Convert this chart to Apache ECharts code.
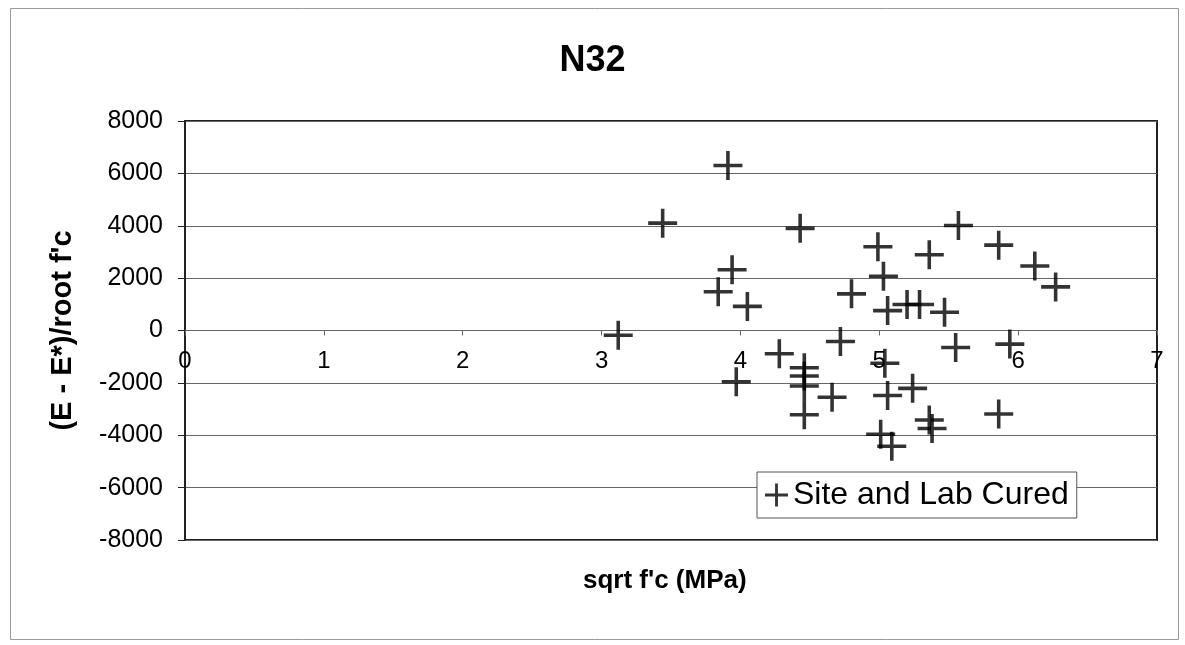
<!DOCTYPE html>
<html>
<head>
<meta charset="utf-8">
<title>N32</title>
<script src="https://cdn.jsdelivr.net/npm/echarts@6/dist/echarts.min.js"></script>
<style>
  html, body { margin: 0; padding: 0; background: #fff; }
  #chart { width: 1185px; height: 645px; }
</style>
</head>
<body>
<div id="chart"></div>
<script>
// sqrt f'c (MPa) for each specimen
const sqrtFc = [
  3.91, 3.44, 4.43, 4.99, 5.03, 3.94, 3.84, 4.05, 4.80, 5.06,
  3.12, 4.72, 4.28, 4.46, 4.46, 4.46, 4.46, 4.66, 3.97, 5.04,
  5.06, 5.01, 5.09, 5.57, 5.86, 5.36, 6.12, 6.27, 5.20, 5.29,
  5.47, 5.55, 5.94, 5.24, 5.36, 5.38, 5.86, 4.81
];
// (E - E*)/root f'c for the same specimens
const residual = [
  6300, 4100, 3900, 3200, 2070, 2320, 1480, 920, 1400, 760,
  -180, -420, -890, -1420, -1740, -2120, -3220, -2550, -1960, -1250,
  -2480, -3960, -4420, 4010, 3260, 2890, 2460, 1665, 990, 990,
  700, -650, -520, -2210, -3420, -3740, -3190, -6200
];
const xTicks = [0, 1, 2, 3, 4, 5, 6, 7];
const yTicks = [-8000, -6000, -4000, -2000, 0, 2000, 4000, 6000, 8000];
const seriesName = 'Site and Lab Cured';

const points = sqrtFc.map((x, i) => [x, residual[i]]);

// Plus-shaped marker as a filled outline
const plusPath = 'path://M12.8,0 h3.6 v12.8 h12.8 v3.6 h-12.8 v12.8 h-3.6 v-12.8 h-12.8 v-3.6 h12.8 z';

const font = 'Liberation Sans, Arial, sans-serif';
const gridTop = 121, gridBottom = 105, chartH = 645;
// The x axis runs along y = 0, half way down the plot area
const plotH = chartH - gridTop - gridBottom;
const zeroFrac = (yTicks[yTicks.length - 1] - 0) / (yTicks[yTicks.length - 1] - yTicks[0]);
const xAxisOffset = -(plotH * (1 - zeroFrac));

const chart = echarts.init(document.getElementById('chart'), null, { renderer: 'canvas' });

chart.setOption({
  backgroundColor: '#fff',
  animation: false,
  title: {
    text: 'N32',
    left: 'center',
    top: 38,
    textStyle: { fontFamily: font, fontSize: 36, fontWeight: 'bold', color: '#000' }
  },
  grid: {
    left: 185, right: 28, top: gridTop, bottom: gridBottom,
    show: true, borderColor: '#222', borderWidth: 2, backgroundColor: 'transparent'
  },
  legend: {
    left: 757, top: 472,
    data: [seriesName],
    backgroundColor: '#fff',
    borderColor: '#555', borderWidth: 1, borderRadius: 0,
    padding: [7, 8, 7, 8],
    itemWidth: 23, itemHeight: 23, itemGap: 6,
    icon: plusPath,
    textStyle: { fontFamily: font, fontSize: 32, color: '#000' }
  },
  xAxis: {
    type: 'value',
    min: xTicks[0], max: xTicks[xTicks.length - 1], interval: 1,
    offset: xAxisOffset,
    axisLine: { show: true, onZero: false, lineStyle: { color: '#666', width: 1 } },
    axisTick: { show: true, inside: false, length: 5, lineStyle: { color: '#666' } },
    axisLabel: { fontFamily: font, fontSize: 24, color: '#000', margin: 19 },
    splitLine: { show: false }
  },
  yAxis: {
    type: 'value',
    min: yTicks[0], max: yTicks[yTicks.length - 1], interval: 2000,
    name: "(E - E*)/root f'c",
    nameLocation: 'middle',
    nameGap: 108,
    nameTextStyle: { fontFamily: font, fontSize: 29, fontWeight: 'bold', color: '#000' },
    axisLine: { show: true, lineStyle: { color: '#222', width: 2 } },
    axisTick: { show: true, inside: false, length: 7, lineStyle: { color: '#222' } },
    axisLabel: {
      fontFamily: font, fontSize: 25, color: '#000', margin: 22,
      formatter: v => String(v)
    },
    splitLine: { show: true, lineStyle: { color: '#666', width: 1 } }
  },
  graphic: [
    {
      type: 'rect', left: 8, top: 6, silent: true, z: -10,
      shape: { width: 1168, height: 631 },
      style: { fill: 'none', stroke: '#999', lineWidth: 1 }
    },
    {
      type: 'text', left: 583, top: 568, silent: true,
      style: { text: "sqrt f'c (MPa)", font: 'bold 26px ' + font, fill: '#000' }
    }
  ],
  series: [{
    name: seriesName,
    type: 'scatter',
    data: points,
    symbol: plusPath,
    symbolSize: 29,
    itemStyle: { color: '#000' }
  }]
});
</script>
</body>
</html>
